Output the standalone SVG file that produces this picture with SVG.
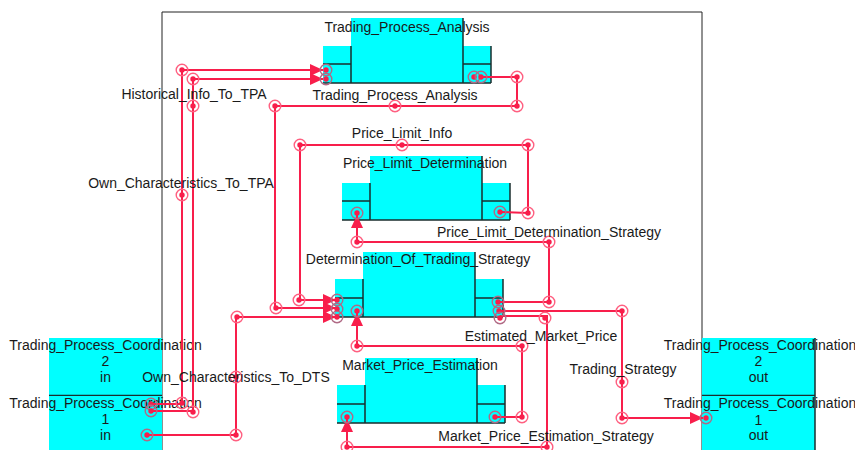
<svg xmlns="http://www.w3.org/2000/svg" xmlns:xlink="http://www.w3.org/1999/xlink" width="855" height="450" viewBox="0 0 855 450">
<style>
.frame{fill:none;stroke:#222;stroke-width:1}
.box{fill:#00ffff;stroke:none}
.edge{stroke:#1a2e2e;stroke-width:1.5;fill:none}
.t{font-family:"Liberation Sans",Arial,sans-serif;font-size:14px;fill:#1a1a1a;text-anchor:middle}
.c{fill:none;stroke:#f81e4b;stroke-width:2}
.halo{fill:none;stroke:#ff5f80;stroke-width:1.4}
.phalo{fill:none;stroke:#b06a85;stroke-width:1.4}
.dot{fill:#f81e4b}
</style>
<defs>
<marker id="arr" viewBox="0 0 13 12" refX="13" refY="6" markerWidth="13" markerHeight="12" markerUnits="userSpaceOnUse" orient="auto"><path d="M0,0 L13,6 L0,12 z" fill="#f81e4b"/></marker>
<g id="bm"><circle r="5.8" class="halo"/><circle r="2.7" class="dot"/></g>
<g id="pm"><circle r="5.8" class="phalo"/><circle r="2.7" class="dot"/></g>
</defs>
<rect x="0" y="0" width="855" height="450" fill="#fff"/>
<g id="frame"><path class="frame" d="M162,460 V12 H702 V460"/></g>

<g id="node-tpc-in-2">
<rect class="box" x="49" y="338" width="113" height="58"/>
<path class="edge" d="M49,395.5 H162"/>
<text class="t" x="105.5" y="350">Trading_Process_Coordination</text>
<text class="t" x="105.5" y="366">2</text>
<text class="t" x="105.5" y="382">in</text>
</g>
<g id="node-tpc-in-1">
<rect class="box" x="49" y="396" width="113" height="60"/>
<text class="t" x="105.5" y="408">Trading_Process_Coordination</text>
<text class="t" x="105.5" y="424">1</text>
<text class="t" x="105.5" y="440">in</text>
</g>
<g id="node-tpc-out-2">
<rect class="box" x="702" y="338" width="113" height="58"/>
<path class="edge" d="M815,338 V396 M702,395.5 H815"/>
<text class="t" x="760" y="350">Trading_Process_Coordination</text>
<text class="t" x="758.5" y="366">2</text>
<text class="t" x="758.5" y="382">out</text>
</g>
<g id="node-tpc-out-1">
<rect class="box" x="702" y="396" width="113" height="60"/>
<path class="edge" d="M815,396 V456"/>
<text class="t" x="760" y="408">Trading_Process_Coordination</text>
<text class="t" x="758.5" y="425">1</text>
<text class="t" x="758.5" y="440">out</text>
</g>

<g id="node-tpa">
<rect class="box" x="351" y="18" width="112" height="65"/>
<rect class="box" x="323" y="46" width="28" height="37"/>
<rect class="box" x="463" y="46" width="28" height="37"/>
<path class="edge" d="M323,64 H351 M323,83 H491 M351,46 V83 M463,18 V83 M463,64 H491 M491,46 V83"/>
<text class="t" x="407" y="32">Trading_Process_Analysis</text>
</g>
<g id="node-pld">
<rect class="box" x="370" y="156" width="112" height="64"/>
<rect class="box" x="342" y="183" width="28" height="37"/>
<rect class="box" x="482" y="183" width="28" height="37"/>
<path class="edge" d="M342,201 H370 M342,220 H510 M370,183 V220 M482,156 V220 M482,201 H510 M510,183 V220"/>
<text class="t" x="425" y="168">Price_Limit_Determination</text>
</g>
<g id="node-dots">
<rect class="box" x="363" y="252" width="112" height="65"/>
<rect class="box" x="335" y="279" width="28" height="38"/>
<rect class="box" x="475" y="279" width="28" height="38"/>
<path class="edge" d="M335,298 H363 M335,317 H503 M363,279 V317 M475,252 V317 M475,298 H503 M503,279 V317"/>
<text class="t" x="418" y="264">Determination_Of_Trading_Strategy</text>
</g>
<g id="node-mpe">
<rect class="box" x="365" y="358" width="112" height="65"/>
<rect class="box" x="337" y="385" width="28" height="38"/>
<rect class="box" x="477" y="385" width="28" height="38"/>
<path class="edge" d="M337,404 H365 M337,423 H505 M365,385 V423 M477,358 V423 M477,404 H505 M505,385 V423"/>
<text class="t" x="420" y="370">Market_Price_Estimation</text>
</g>

<g id="connectors">
<path class="c" d="M151,404 H182 V70 H323" marker-end="url(#arr)"/>
<path class="c" d="M151,411 H193 V79 H323" marker-end="url(#arr)"/>
<path class="c" d="M481,77 H517 V106 H275 V308 H336" marker-end="url(#arr)"/>
<path class="c" d="M500,212 L528,213 V145 H300 V300 H336" marker-end="url(#arr)"/>
<path class="c" d="M147,435 H236 V317 H336" marker-end="url(#arr)"/>
<path class="c" d="M498,302 H549 V242 H357 V215" marker-end="url(#arr)"/>
<path class="c" d="M499,311 H622 V418 H703" marker-end="url(#arr)"/>
<path class="c" d="M500,316 H547 V447 H347 V419" marker-end="url(#arr)"/>
<path class="c" d="M495,417 H522 V346 H357 V313" marker-end="url(#arr)"/>

<use xlink:href="#pm" x="151" y="404"/><use xlink:href="#pm" x="151" y="411"/><use xlink:href="#pm" x="147" y="435"/>
<use xlink:href="#bm" x="182" y="403"/><use xlink:href="#bm" x="193" y="412"/>
<use xlink:href="#bm" x="182" y="70"/><use xlink:href="#bm" x="182" y="195"/>
<use xlink:href="#bm" x="193" y="79"/><use xlink:href="#bm" x="193" y="106"/>
<use xlink:href="#pm" x="326" y="70"/><use xlink:href="#pm" x="326" y="79"/>
<use xlink:href="#pm" x="474" y="77"/><use xlink:href="#pm" x="481" y="77"/>
<use xlink:href="#bm" x="517" y="77"/><use xlink:href="#bm" x="517" y="106"/><use xlink:href="#bm" x="395" y="106"/><use xlink:href="#bm" x="275" y="106"/><use xlink:href="#bm" x="276" y="308"/>
<use xlink:href="#pm" x="500" y="212"/><use xlink:href="#bm" x="528" y="213"/><use xlink:href="#bm" x="528" y="145"/><use xlink:href="#bm" x="402" y="145"/><use xlink:href="#bm" x="300" y="145"/><use xlink:href="#bm" x="299" y="300"/>
<use xlink:href="#bm" x="236" y="435"/><use xlink:href="#bm" x="236" y="377"/><use xlink:href="#bm" x="237" y="317"/>
<use xlink:href="#pm" x="337" y="300"/><use xlink:href="#pm" x="337" y="309"/><use xlink:href="#pm" x="337" y="317"/>
<use xlink:href="#pm" x="498" y="302"/><use xlink:href="#pm" x="499" y="311"/><use xlink:href="#pm" x="500" y="318"/>
<use xlink:href="#bm" x="549" y="302"/><use xlink:href="#bm" x="549" y="242"/><use xlink:href="#bm" x="357" y="242"/><use xlink:href="#pm" x="357" y="213"/>
<use xlink:href="#bm" x="622" y="311"/><use xlink:href="#bm" x="622" y="382"/><use xlink:href="#bm" x="622" y="418"/><use xlink:href="#pm" x="706" y="418"/>
<use xlink:href="#bm" x="545" y="318"/><use xlink:href="#bm" x="547" y="447"/><use xlink:href="#bm" x="347" y="447"/><use xlink:href="#pm" x="347" y="417"/>
<use xlink:href="#pm" x="495" y="417"/><use xlink:href="#bm" x="522" y="417"/><use xlink:href="#bm" x="522" y="346"/><use xlink:href="#bm" x="357" y="346"/><use xlink:href="#pm" x="357" y="311"/>

<text class="t" x="194" y="99">Historical_Info_To_TPA</text>
<text class="t" x="181" y="188">Own_Characteristics_To_TPA</text>
<text class="t" x="395" y="100">Trading_Process_Analysis</text>
<text class="t" x="402" y="138">Price_Limit_Info</text>
<text class="t" x="549" y="237">Price_Limit_Determination_Strategy</text>
<text class="t" x="541" y="341">Estimated_Market_Price</text>
<text class="t" x="623" y="374">Trading_Strategy</text>
<text class="t" x="236" y="382">Own_Characteristics_To_DTS</text>
<text class="t" x="546" y="441">Market_Price_Estimation_Strategy</text>
</g>
</svg>
